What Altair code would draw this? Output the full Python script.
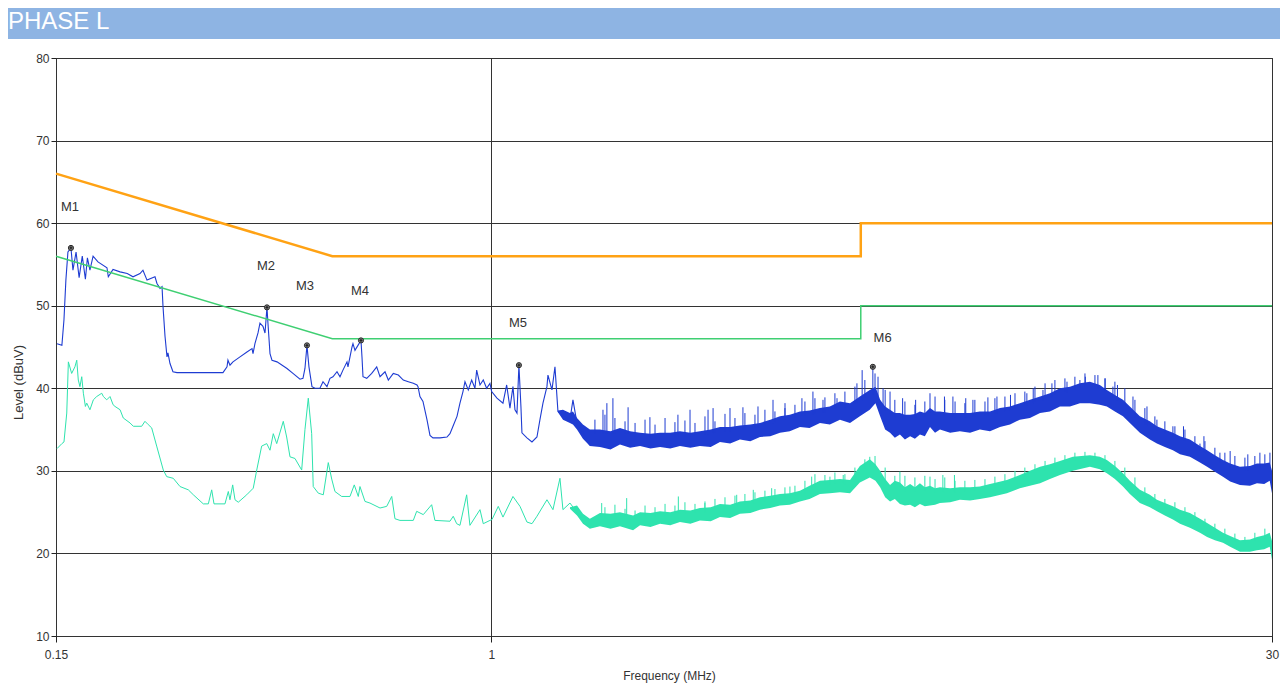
import altair as alt
import pandas as pd

# ---------------- data (MHz, dBuV) ----------------
header_text = ["PHASE L"]

qp_limit = [(0.15, 66), (0.5, 56), (5, 56), (5, 60), (30, 60)]
av_limit = [(0.15, 56), (0.5, 46), (5, 46), (5, 50), (30, 50)]

# peak detector trace (low / mid frequencies)
peak_trace = [
    (0.1507, 45.4), (0.1539, 45.2), (0.1553, 48.3), (0.1566, 53.1), (0.1580, 56.5), (0.1601, 57.0),
    (0.1615, 54.3), (0.1637, 56.5), (0.1659, 53.4), (0.1682, 56.0), (0.1705, 53.2), (0.1720, 55.8),
    (0.1739, 54.3), (0.1763, 56.0), (0.1801, 55.3), (0.1873, 54.6), (0.1884, 53.5), (0.1923, 54.4),
    (0.1983, 54.1), (0.2046, 53.9), (0.2098, 53.5), (0.2163, 53.9), (0.2191, 54.3), (0.2230, 53.1),
    (0.2309, 53.5), (0.2329, 52.7), (0.2360, 52.1), (0.2381, 52.3), (0.2391, 49.9), (0.2412, 46.3),
    (0.2433, 43.8), (0.2443, 44.3), (0.2465, 43.0), (0.2497, 42.0), (0.2541, 41.9), (0.3105, 41.9),
    (0.3160, 42.6), (0.3173, 43.4), (0.3201, 42.8), (0.3243, 43.2), (0.3344, 43.8), (0.3447, 44.4),
    (0.3524, 44.8), (0.3539, 44.2), (0.3569, 45.4), (0.3617, 46.7), (0.3648, 47.9), (0.3696, 47.5),
    (0.3729, 46.7), (0.3761, 49.8), (0.3777, 47.9), (0.3811, 44.2), (0.3844, 43.4), (0.3929, 43.2),
    (0.4104, 42.4), (0.4212, 41.8), (0.4343, 41.1), (0.4400, 41.2), (0.4438, 42.4), (0.4477, 45.2),
    (0.4516, 42.6), (0.4576, 40.2), (0.4637, 40.0), (0.4737, 40.0), (0.4801, 40.8), (0.4885, 40.2),
    (0.4949, 41.2), (0.5014, 41.4), (0.5103, 42.0), (0.5170, 41.4), (0.5237, 42.2), (0.5330, 43.2),
    (0.5353, 42.6), (0.5448, 45.0), (0.5471, 45.4), (0.5519, 44.6), (0.5591, 45.2), (0.5665, 45.8),
    (0.5690, 43.8), (0.5715, 41.4), (0.5809, 41.2), (0.5936, 41.8), (0.6067, 42.6), (0.6155, 41.4),
    (0.6291, 42.0), (0.6382, 41.0), (0.6522, 41.8), (0.6666, 41.6), (0.6812, 41.0), (0.6962, 40.8),
    (0.7115, 40.6), (0.7231, 40.4), (0.7263, 40.2), (0.7325, 39.0), (0.7422, 38.4), (0.7552, 36.2),
    (0.7652, 34.3), (0.7752, 34.0), (0.7993, 34.0), (0.8240, 34.1), (0.8348, 34.5), (0.8459, 35.4),
    (0.8608, 36.6), (0.8720, 38.2), (0.8835, 39.6), (0.8912, 40.8), (0.9041, 39.8), (0.9176, 41.0),
    (0.9309, 40.0), (0.9378, 42.2), (0.9515, 40.4), (0.9652, 41.0), (0.9794, 40.0), (0.9937, 40.6),
    (1.0011, 39.6), (1.0245, 38.8), (1.0517, 38.2), (1.0688, 40.4), (1.0842, 37.6), (1.0985, 40.2),
    (1.1081, 37.4), (1.1179, 37.0), (1.1274, 42.8), (1.1373, 37.8), (1.1423, 34.6), (1.1676, 34.0),
    (1.1934, 33.5), (1.2195, 34.1), (1.2356, 36.2), (1.2519, 38.2), (1.2738, 40.2), (1.2794, 41.6),
    (1.3019, 39.8), (1.3191, 42.6), (1.3363, 37.2), (1.3658, 36.6), (1.4083, 36.2), (1.4266, 38.6),
    (1.4517, 35.8), (1.4904, 34.6), (1.536, 33.1),
]

# peak detector: dense noise band (freq, lower edge, upper edge)
peak_band = [
    (1.3363, 37.1, 37.3), (1.366, 36.2, 37.4), (1.408, 35.8, 37.0), (1.4266, 35.6, 37.2),
    (1.452, 35.0, 36.4), (1.490, 33.9, 35.6),
    (1.536, 33.0, 35.0), (1.605, 32.9, 35.0), (1.68, 32.6, 34.8), (1.751, 33.2, 35.2),
    (1.83, 32.8, 34.8), (1.911, 33.0, 34.6), (2.00, 32.7, 34.5), (2.085, 32.9, 34.6),
    (2.18, 32.7, 34.6), (2.274, 33.0, 34.8), (2.38, 32.8, 34.6), (2.481, 33.0, 34.8),
    (2.60, 32.9, 35.0), (2.707, 33.5, 35.3), (2.83, 33.3, 35.3), (2.953, 33.8, 35.5),
    (3.09, 33.6, 35.6), (3.223, 34.1, 35.8), (3.37, 34.2, 36.2), (3.516, 34.6, 36.6),
    (3.67, 34.8, 36.8), (3.836, 35.3, 37.2), (4.0, 35.2, 37.3), (4.185, 35.8, 37.6),
    (4.37, 35.6, 37.8), (4.566, 36.2, 38.4), (4.771, 35.8, 38.2), (4.98, 36.6, 39.0),
    (5.20, 37.4, 39.8), (5.33, 38.2, 40.2), (5.44, 36.6, 38.6), (5.56, 35.0, 37.8),
    (5.68, 34.6, 37.4), (5.80, 34.0, 37.0), (5.93, 34.4, 37.0), (6.06, 33.8, 36.8),
    (6.20, 34.2, 36.8), (6.33, 33.9, 36.9), (6.47, 34.4, 37.2), (6.61, 34.2, 37.0),
    (6.76, 35.3, 37.6), (6.91, 34.6, 37.2), (7.06, 35.0, 37.2), (7.38, 34.6, 37.0),
    (7.70, 34.8, 37.0), (8.05, 34.6, 37.0), (8.40, 35.0, 37.2), (8.78, 34.8, 37.2),
    (9.17, 35.3, 37.6), (9.58, 35.6, 37.8), (10.0, 36.2, 38.2), (10.45, 36.4, 38.6),
    (10.92, 37.0, 39.0), (11.40, 37.2, 39.4), (11.91, 37.8, 40.0), (12.44, 37.8, 40.2),
    (12.99, 38.2, 40.6), (13.57, 38.2, 40.8), (14.17, 38.0, 40.4), (14.61, 37.8, 39.8),
    (15.13, 37.2, 39.2), (15.67, 36.6, 38.6), (16.15, 35.8, 37.8), (16.87, 34.6, 36.6),
    (17.62, 33.8, 36.0), (18.17, 33.3, 35.4), (18.81, 32.9, 35.0), (19.48, 32.5, 34.6),
    (20.09, 32.0, 34.2), (20.98, 31.7, 33.8), (21.92, 31.0, 33.0), (22.61, 30.5, 32.5),
    (23.39, 29.9, 31.9), (24.23, 29.3, 31.3), (25.0, 28.7, 30.9), (26.09, 28.3, 30.5),
    (27.25, 28.2, 30.6), (28.1, 28.5, 30.9), (29.0, 28.4, 30.9), (29.7, 28.8, 31.0),
    (30.0, 27.3, 30.0),
]

# peak detector: narrow spikes above the band (freq, base, top)
peak_spikes = [
    (1.570, 34.5, 36.2), (1.626, 34.5, 37.4), (1.640, 34.5, 36.8), (1.654, 34.5, 38.2),
    (1.698, 34.5, 38.8), (1.713, 34.5, 36.4), (1.790, 34.5, 36.0), (1.814, 34.5, 37.7),
    (1.870, 34.2, 35.8), (1.953, 34.1, 36.2), (1.995, 34.0, 36.5), (2.040, 34.0, 35.6),
    (2.131, 34.1, 36.4), (2.225, 34.2, 35.9), (2.254, 34.2, 36.8), (2.324, 34.2, 36.1),
    (2.376, 34.2, 37.4), (2.428, 34.3, 35.8), (2.536, 34.4, 36.6), (2.570, 34.4, 37.4),
    (2.627, 34.5, 37.6), (2.649, 34.6, 36.0), (2.767, 34.8, 36.9), (2.828, 34.8, 37.6),
    (2.890, 35.0, 36.4), (2.992, 35.0, 37.7), (3.018, 35.0, 37.0), (3.153, 35.2, 36.8),
    (3.195, 35.3, 37.8), (3.293, 35.5, 37.4), (3.411, 35.7, 38.6), (3.440, 35.8, 37.2),
    (3.593, 36.2, 37.6), (3.594, 36.2, 38.2), (3.753, 36.5, 38.0), (3.869, 36.7, 38.8),
    (3.920, 36.7, 38.4), (4.059, 36.8, 39.6), (4.095, 36.9, 38.8), (4.241, 37.1, 38.6),
    (4.277, 37.1, 38.9), (4.467, 37.6, 39.4), (4.508, 37.7, 38.8), (4.666, 37.7, 39.6),
    (4.874, 38.2, 40.2), (4.917, 38.3, 40.6), (5.03, 38.5, 42.2), (5.09, 38.9, 41.0),
    (5.27, 39.3, 42.6), (5.32, 39.6, 41.8), (5.39, 39.0, 41.4), (5.51, 37.9, 40.0),
    (5.56, 37.3, 39.8), (5.68, 36.9, 39.6), (5.80, 36.5, 38.6), (6.0, 36.5, 38.8),
    (6.06, 36.3, 38.4), (6.33, 36.4, 38.0), (6.35, 36.5, 38.6), (6.61, 36.6, 38.4),
    (6.76, 37.1, 39.4), (6.91, 36.8, 39.0), (7.2, 36.7, 39.0), (7.21, 36.6, 38.6),
    (7.47, 36.6, 39.0), (7.54, 36.5, 38.4), (7.87, 36.5, 38.2), (7.9, 36.5, 38.8),
    (8.15, 36.6, 38.6), (8.22, 36.6, 38.6), (8.59, 36.7, 38.4), (8.7, 36.7, 38.9),
    (8.97, 36.9, 38.8), (9.05, 37.0, 39.0), (9.37, 37.2, 39.0), (9.6, 37.3, 39.2),
    (9.79, 37.6, 39.4), (10.22, 37.9, 39.6), (10.31, 37.9, 39.4), (10.6, 38.1, 40.0),
    (10.68, 38.4, 40.2), (11.06, 38.5, 39.8), (11.16, 38.8, 40.6), (11.5, 38.9, 40.6),
    (11.65, 39.3, 41.0), (12.17, 39.6, 41.2), (12.28, 39.5, 40.8), (12.71, 39.9, 41.4),
    (12.99, 40.1, 41.0), (13.28, 40.2, 41.8), (13.3, 40.2, 41.4), (13.87, 40.2, 41.6),
    (14.05, 40.0, 41.6), (14.49, 39.6, 41.2), (14.5, 39.7, 41.2), (15.0, 38.9, 40.2),
    (15.13, 38.8, 40.8), (15.3, 38.5, 40.4), (15.80, 37.9, 40.0), (16.37, 37.1, 39.0),
    (16.51, 36.4, 38.6), (17.24, 35.6, 37.6), (17.4, 35.5, 37.8), (18.01, 35.0, 36.6),
    (18.17, 34.9, 36.2), (18.81, 34.5, 36.0), (19.48, 34.1, 35.4), (19.65, 34.0, 35.4),
    (20.4, 33.7, 35.4), (20.53, 33.5, 35.0), (21.44, 32.9, 34.2), (21.92, 32.5, 33.3),
    (22.3, 32.3, 34.2), (22.40, 32.2, 33.6), (23.39, 31.5, 32.8), (23.91, 31.0, 32.2),
    (24.43, 30.9, 32.2), (25.0, 30.4, 32.4), (25.52, 30.4, 31.8), (26.66, 30.1, 31.6),
    (27.0, 30.1, 32.0), (27.84, 30.4, 31.8), (28.46, 30.4, 32.2), (29.08, 30.5, 32.0),
    (29.73, 30.5, 32.2),
]

# average detector trace (low / mid frequencies)
avg_trace = [
    (0.1507, 32.7), (0.1539, 33.3), (0.1553, 33.5), (0.1572, 37.0), (0.1583, 43.2), (0.1606, 41.8),
    (0.1629, 42.6), (0.1642, 43.4), (0.1653, 41.0), (0.1665, 40.2), (0.1678, 41.4), (0.1690, 39.4),
    (0.1705, 37.8), (0.1715, 38.2), (0.1739, 37.4), (0.1765, 38.6), (0.1791, 39.0), (0.1831, 39.4),
    (0.1844, 39.0), (0.1871, 38.6), (0.1898, 39.0), (0.1924, 38.0), (0.1940, 37.8), (0.1983, 37.4),
    (0.2011, 36.4), (0.2071, 35.8), (0.2101, 35.4), (0.2179, 35.4), (0.2210, 36.0), (0.2242, 35.6),
    (0.2276, 35.2), (0.2326, 33.0), (0.2394, 30.1), (0.2430, 29.3), (0.2500, 29.1), (0.2575, 28.1),
    (0.2670, 27.7), (0.2729, 27.1), (0.2850, 26.0), (0.2913, 26.0), (0.2956, 27.7), (0.2986, 26.0),
    (0.3132, 26.0), (0.3178, 27.5), (0.3201, 26.5), (0.3239, 28.3), (0.3272, 26.5), (0.3319, 26.2),
    (0.3443, 27.1), (0.3543, 27.9), (0.3597, 30.1), (0.3675, 33.0), (0.3757, 33.3), (0.3811, 32.5),
    (0.3866, 34.5), (0.3924, 33.3), (0.4038, 36.0), (0.4098, 34.1), (0.4158, 31.7), (0.4249, 31.5),
    (0.4375, 30.1), (0.4438, 35.0), (0.4503, 38.8), (0.4570, 34.5), (0.4601, 28.1), (0.4703, 27.3),
    (0.4807, 27.1), (0.4913, 31.0), (0.4987, 29.0), (0.5058, 27.5), (0.5208, 26.9), (0.5400, 26.9),
    (0.5502, 28.3), (0.5599, 26.9), (0.5640, 28.1), (0.5765, 26.3), (0.5891, 26.1), (0.6155, 25.5),
    (0.6337, 25.7), (0.6477, 26.9), (0.6569, 24.2), (0.6714, 24.0), (0.7115, 24.0), (0.7221, 25.1),
    (0.7432, 24.7), (0.7708, 25.9), (0.7819, 24.0), (0.8348, 23.9), (0.8468, 24.5), (0.8596, 23.6),
    (0.8720, 23.4), (0.8978, 27.1), (0.9107, 23.4), (0.9515, 25.3), (0.9652, 23.6), (0.9937, 24.0),
    (1.0025, 24.1), (1.0304, 25.7), (1.0517, 24.4), (1.0985, 26.9), (1.1327, 25.7), (1.1676, 23.8),
    (1.1934, 23.6), (1.2195, 24.5), (1.2738, 26.5), (1.3076, 25.3), (1.348, 29.1), (1.3658, 25.3),
    (1.4083, 26.1), (1.4904, 24.0), (1.536, 23.1), (1.605, 24.1),
]

# average detector: dense noise band (freq, lower edge, upper edge)
avg_band = [
    (1.4083, 25.4, 25.6), (1.452, 24.6, 25.8), (1.4904, 23.6, 24.8), (1.536, 23.0, 24.2),
    (1.605, 23.3, 24.9), (1.68, 23.0, 24.8), (1.751, 23.3, 25.0), (1.854, 22.8, 24.6),
    (1.911, 23.4, 25.0), (2.00, 23.2, 24.9), (2.085, 23.6, 25.1), (2.18, 23.4, 25.0),
    (2.274, 23.8, 25.3), (2.38, 23.6, 25.2), (2.481, 24.0, 25.5), (2.60, 23.9, 25.6),
    (2.707, 24.4, 26.0), (2.83, 24.3, 25.9), (2.953, 24.8, 26.3), (3.09, 24.9, 26.4),
    (3.223, 25.3, 26.8), (3.37, 25.5, 27.0), (3.516, 25.8, 27.2), (3.67, 25.9, 27.3),
    (3.836, 26.3, 27.6), (4.0, 26.6, 28.2), (4.185, 27.2, 28.8), (4.37, 27.3, 28.9),
    (4.566, 27.4, 29.0), (4.771, 27.3, 28.9), (4.98, 28.6, 30.6), (5.20, 29.2, 31.4),
    (5.33, 28.8, 30.8), (5.44, 28.0, 30.0), (5.56, 26.8, 29.0), (5.68, 26.3, 28.3),
    (5.80, 26.6, 28.8), (5.93, 26.0, 28.6), (6.06, 25.8, 28.0), (6.20, 25.9, 28.4),
    (6.33, 25.6, 28.0), (6.47, 26.0, 28.5), (6.61, 25.7, 28.0), (6.76, 25.8, 28.2),
    (6.91, 25.9, 27.9), (7.06, 26.1, 28.0), (7.38, 26.2, 27.9), (7.70, 26.5, 28.0),
    (8.05, 26.4, 28.0), (8.40, 26.6, 28.1), (8.78, 26.8, 28.4), (9.45, 27.3, 28.9),
    (10.0, 27.9, 29.5), (10.45, 28.2, 30.0), (10.92, 28.5, 30.5), (11.40, 29.0, 30.8),
    (11.91, 29.5, 31.2), (12.60, 30.0, 31.7), (13.57, 30.5, 31.9), (14.17, 30.2, 31.7),
    (14.61, 29.7, 31.3), (15.13, 29.0, 30.6), (15.67, 28.1, 29.7), (16.15, 27.2, 28.8),
    (16.87, 26.1, 27.7), (17.62, 25.6, 27.1), (18.17, 25.1, 26.5), (18.81, 24.6, 26.1),
    (19.48, 24.1, 25.7), (20.09, 23.6, 25.3), (20.98, 23.1, 24.9), (21.92, 22.5, 24.2),
    (22.61, 22.0, 23.7), (23.39, 21.6, 23.1), (24.23, 21.3, 22.5), (25.0, 20.8, 22.1),
    (26.09, 20.2, 21.6), (27.25, 20.2, 21.7), (28.1, 20.4, 22.0), (29.0, 20.5, 22.2),
    (29.7, 20.8, 22.5), (30.0, 19.2, 21.5),
]

avg_spikes = [
    (1.617, 24.4, 26.1), (1.640, 24.4, 25.6), (1.713, 24.5, 25.9), (1.790, 24.5, 25.4),
    (1.803, 24.5, 26.7), (1.870, 24.1, 25.2), (1.953, 24.5, 25.8), (2.040, 24.5, 25.6),
    (2.131, 24.6, 26.0), (2.225, 24.8, 25.8), (2.258, 24.8, 26.9), (2.324, 24.8, 26.2),
    (2.428, 25.0, 26.0), (2.535, 25.0, 26.1), (2.536, 25.0, 26.3), (2.649, 25.3, 26.6),
    (2.767, 25.5, 26.8), (2.890, 25.5, 27.0), (2.912, 25.7, 27.1), (3.018, 25.9, 27.2),
    (3.130, 26.1, 27.7), (3.153, 26.0, 27.4), (3.293, 26.3, 27.6), (3.391, 26.5, 27.9),
    (3.440, 26.6, 27.8), (3.593, 26.8, 28.0), (3.672, 26.8, 28.1), (3.753, 27.0, 28.2),
    (3.920, 27.3, 28.8), (4.037, 27.7, 29.3), (4.095, 28.0, 29.6), (4.277, 28.3, 29.5),
    (4.371, 28.4, 29.3), (4.467, 28.5, 29.8), (4.632, 28.5, 29.5), (4.666, 28.4, 29.6),
    (4.874, 29.0, 30.4), (5.09, 30.3, 31.4), (5.20, 30.5, 31.7), (5.32, 30.3, 31.8),
    (5.56, 28.5, 30.4), (5.80, 28.3, 29.4), (5.93, 28.1, 29.9), (6.06, 27.5, 29.4),
    (6.33, 27.5, 29.2), (6.61, 27.5, 29.4), (6.76, 27.7, 29.3), (6.91, 27.4, 29.0),
    (7.15, 27.5, 29.5), (7.21, 27.4, 29.2), (7.52, 27.5, 29.5), (7.54, 27.4, 28.8),
    (7.87, 27.5, 28.8), (8.22, 27.6, 28.9), (8.59, 27.7, 29.0), (8.97, 28.0, 29.3),
    (9.37, 28.4, 29.6), (9.79, 28.8, 30.0), (10.22, 29.3, 30.4), (10.68, 29.7, 30.8),
    (11.16, 30.1, 31.2), (11.65, 30.5, 31.6), (12.17, 31.0, 31.9), (12.71, 31.2, 32.2),
    (13.28, 31.4, 32.3), (13.87, 31.3, 32.2), (14.49, 30.9, 31.9), (15.13, 30.1, 31.2),
    (15.80, 29.2, 30.4), (16.51, 27.9, 29.2), (17.24, 27.0, 28.0), (18.01, 26.2, 27.2),
    (18.81, 25.6, 26.6), (19.65, 25.2, 26.2), (20.53, 24.6, 25.6), (21.44, 24.0, 25.0),
    (22.40, 23.2, 24.2), (23.39, 22.6, 23.6), (24.43, 22.0, 23.0), (25.52, 21.5, 22.4),
    (26.66, 21.2, 22.0), (27.84, 21.5, 22.5), (29.08, 21.7, 23.0),
]

marker_names = ["M1", "M2", "M3", "M4", "M5", "M6"]
marker_freq = [0.1601, 0.3761, 0.4477, 0.5665, 1.1274, 5.27]
marker_level = [57.0, 49.8, 45.2, 45.8, 42.8, 42.6]
label_freq = [0.1594, 0.3745, 0.4438, 0.5640, 1.1228, 5.50]
label_level = [62.0, 54.8, 52.4, 51.8, 47.9, 46.1]

x_ticks = [0.15, 1, 30]
y_ticks = [10, 20, 30, 40, 50, 60, 70, 80]

# ---------------- frames ----------------
qp_df = pd.DataFrame(qp_limit, columns=["f", "db"]).reset_index()
av_df = pd.DataFrame(av_limit, columns=["f", "db"]).reset_index()
pk_df = pd.DataFrame(peak_trace, columns=["f", "db"])
pkb_df = pd.DataFrame(peak_band, columns=["f", "lo", "hi"])
pks_df = pd.DataFrame(peak_spikes, columns=["f", "lo", "hi"])
av_tr_df = pd.DataFrame(avg_trace, columns=["f", "db"])
avb_df = pd.DataFrame(avg_band, columns=["f", "lo", "hi"])
avs_df = pd.DataFrame(avg_spikes, columns=["f", "lo", "hi"])
mk_df = pd.DataFrame({"name": marker_names, "f": marker_freq, "db": marker_level,
                      "lf": label_freq, "ldb": label_level})
hdr_df = pd.DataFrame({"t": header_text})

FONT = "Liberation Sans"
BLUE = "#1E3CD2"
CYAN = "#2EE3AE"
ORANGE = "#FFA214"
GREEN = "#3FCF72"

xscale = alt.Scale(type="log", domain=[0.15, 30], nice=False)
yscale = alt.Scale(domain=[10, 80], nice=False, zero=False)
xaxis = alt.Axis(values=x_ticks, format="~g", title="Frequency (MHz)", grid=True,
                 tickSize=6, labelPadding=7, labelFontSize=12, labelFlush=False,
                 labelOverlap=False, titleFontSize=12, titleFontWeight="normal",
                 titleX=613, titleY=46, titleBaseline="bottom", titleAlign="center")
yaxis = alt.Axis(values=y_ticks, title="Level (dBuV)", grid=True, tickSize=5,
                 labelPadding=2, labelFontSize=12, titleFontSize=13,
                 titleFontWeight="normal", titleX=-38, titleY=324,
                 titleAlign="center", titleBaseline="middle")


def X(field="f"):
    return alt.X(f"{field}:Q", scale=xscale, axis=xaxis)


def Y(field):
    return alt.Y(f"{field}:Q", scale=yscale, axis=yaxis)


avg_band_layer = alt.Chart(avb_df).mark_area(color=CYAN, opacity=1).encode(
    x=X(), y=Y("lo"), y2=alt.Y2("hi:Q"))
avg_spike_layer = alt.Chart(avs_df).mark_rule(color=CYAN, strokeWidth=1).encode(
    x=X(), y=Y("lo"), y2=alt.Y2("hi:Q"))
avg_line_layer = alt.Chart(av_tr_df).mark_line(color=CYAN, strokeWidth=1).encode(
    x=X(), y=Y("db"))

pk_band_layer = alt.Chart(pkb_df).mark_area(color=BLUE, opacity=1).encode(
    x=X(), y=Y("lo"), y2=alt.Y2("hi:Q"))
pk_spike_layer = alt.Chart(pks_df).mark_rule(color=BLUE, strokeWidth=1).encode(
    x=X(), y=Y("lo"), y2=alt.Y2("hi:Q"))
pk_line_layer = alt.Chart(pk_df).mark_line(color=BLUE, strokeWidth=1.1).encode(
    x=X(), y=Y("db"))

qp_layer = alt.Chart(qp_df).mark_line(color=ORANGE, strokeWidth=2.5).encode(
    x=X(), y=Y("db"), order="index:Q")
av_layer = alt.Chart(av_df).mark_line(color=GREEN, strokeWidth=1.5).encode(
    x=X(), y=Y("db"), order="index:Q")

mk_circle = alt.Chart(mk_df).mark_point(shape="circle", filled=True, fill="#9a9a9a",
                                        stroke="#222", strokeWidth=1, size=26, opacity=1).encode(
    x=X(), y=Y("db"))
mk_cross = alt.Chart(mk_df).mark_point(shape="cross", filled=True, color="#222", size=10,
                                       opacity=1).encode(x=X(), y=Y("db"))
mk_text = alt.Chart(mk_df).mark_text(font=FONT, fontSize=13, color="#333", align="center",
                                     baseline="middle").encode(
    x=X("lf"), y=Y("ldb"), text="name:N")

header_rect = alt.Chart(hdr_df).mark_rect(color="#8EB4E3").encode(
    x=alt.value(-48), x2=alt.value(1224), y=alt.value(-50), y2=alt.value(-19))
header_txt = alt.Chart(hdr_df).mark_text(font=FONT, fontSize=24, color="white", align="left",
                                         baseline="alphabetic").encode(
    x=alt.value(-48), y=alt.value(-29), text="t:N")

chart = alt.layer(
    header_rect, header_txt,
    avg_band_layer, avg_spike_layer, avg_line_layer,
    pk_band_layer, pk_spike_layer, pk_line_layer,
    qp_layer, av_layer,
    mk_circle, mk_cross, mk_text,
).properties(
    width=1216, height=578,
    padding={"left": 48, "top": 50, "right": 8, "bottom": 47},
    autosize=alt.AutoSizeParams(type="none"),
).configure_axis(
    labelFont=FONT, titleFont=FONT, labelColor="#333", titleColor="#333",
    tickColor="#222", domain=False, gridColor="#333", gridOpacity=1, gridWidth=1,
).configure_view(stroke="#222", strokeWidth=1)

chart.save("out.html", embed_options={"renderer": "svg", "actions": False})
